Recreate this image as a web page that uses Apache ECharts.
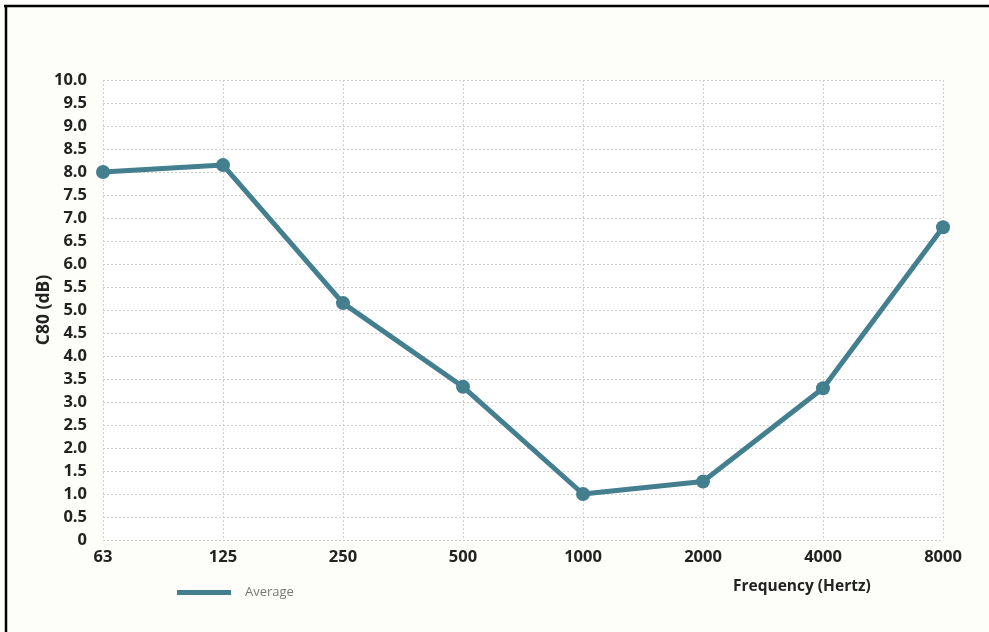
<!DOCTYPE html>
<html>
<head>
<meta charset="utf-8">
<script src="https://cdn.jsdelivr.net/npm/echarts@6/dist/echarts.min.js"></script>
<style>
html,body{margin:0;padding:0;background:#fdfdf9;}
#chart{width:989px;height:632px;}
</style>
</head>
<body>
<div id="chart"></div>
<script>
var categories = ['63', '125', '250', '500', '1000', '2000', '4000', '8000'];
var averageValues = [8.0, 8.15, 5.15, 3.33, 1.0, 1.27, 3.3, 6.8];
var seriesName = 'Average';
var yAxisTitle = 'C80 (dB)';
var xAxisTitle = 'Frequency (Hertz)';

var chart = echarts.init(document.getElementById('chart'));
var color = '#437f8f';
chart.setOption({
  backgroundColor: '#fdfdf9',
  animation: false,
  graphic: [
    {type: 'line', shape: {x1: 4, y1: 6, x2: 989, y2: 6}, style: {stroke: '#000', lineWidth: 2.5}},
    {type: 'line', shape: {x1: 6, y1: 5, x2: 6, y2: 632}, style: {stroke: '#000', lineWidth: 2.5}},
    {type: 'text', left: 733, top: 579, style: {text: xAxisTitle, font: 'bold 15.5px "Open Sans"', fill: '#222'}}
  ],
  legend: {
    left: 172, top: 581,
    itemWidth: 54, itemHeight: 5,
    itemGap: 14,
    icon: 'rect',
    textStyle: {color: '#777', fontFamily: 'Open Sans', fontSize: 13, padding: [0, 0, 0, 9]},
    data: [{name: seriesName, icon: 'rect'}]
  },
  grid: {left: 103, right: 46, top: 80, bottom: 92, backgroundColor: '#fff', show: true, borderWidth: 0},
  xAxis: {
    type: 'category',
    data: categories,
    boundaryGap: false,
    axisLine: {show: false},
    axisTick: {show: false},
    axisLabel: {color: '#222', fontFamily: 'Open Sans', fontWeight: 'bold', fontSize: 16.5, margin: 9},
    splitLine: {show: true, lineStyle: {color: '#cfcfcf', type: [2, 2], width: 1}}
  },
  yAxis: {
    type: 'value',
    min: 0, max: 10, interval: 0.5,
    name: yAxisTitle,
    nameLocation: 'middle',
    nameGap: 50,
    nameMoveOverlap: false,
    nameTextStyle: {color: '#222', fontFamily: 'Open Sans', fontWeight: 'bold', fontSize: 17.5},
    axisLine: {show: false},
    axisTick: {show: false},
    axisLabel: {
      color: '#222', fontFamily: 'Open Sans', fontWeight: 'bold', fontSize: 16.5, margin: 16,
      formatter: function (v) { return v === 0 ? '0' : v.toFixed(1); }
    },
    splitLine: {show: true, lineStyle: {color: '#cfcfcf', type: [2, 2], width: 1}}
  },
  series: [{
    name: seriesName,
    type: 'line',
    data: averageValues,
    symbol: 'circle',
    symbolSize: 14,
    lineStyle: {color: color, width: 5},
    itemStyle: {color: color}
  }]
});
</script>
</body>
</html>
